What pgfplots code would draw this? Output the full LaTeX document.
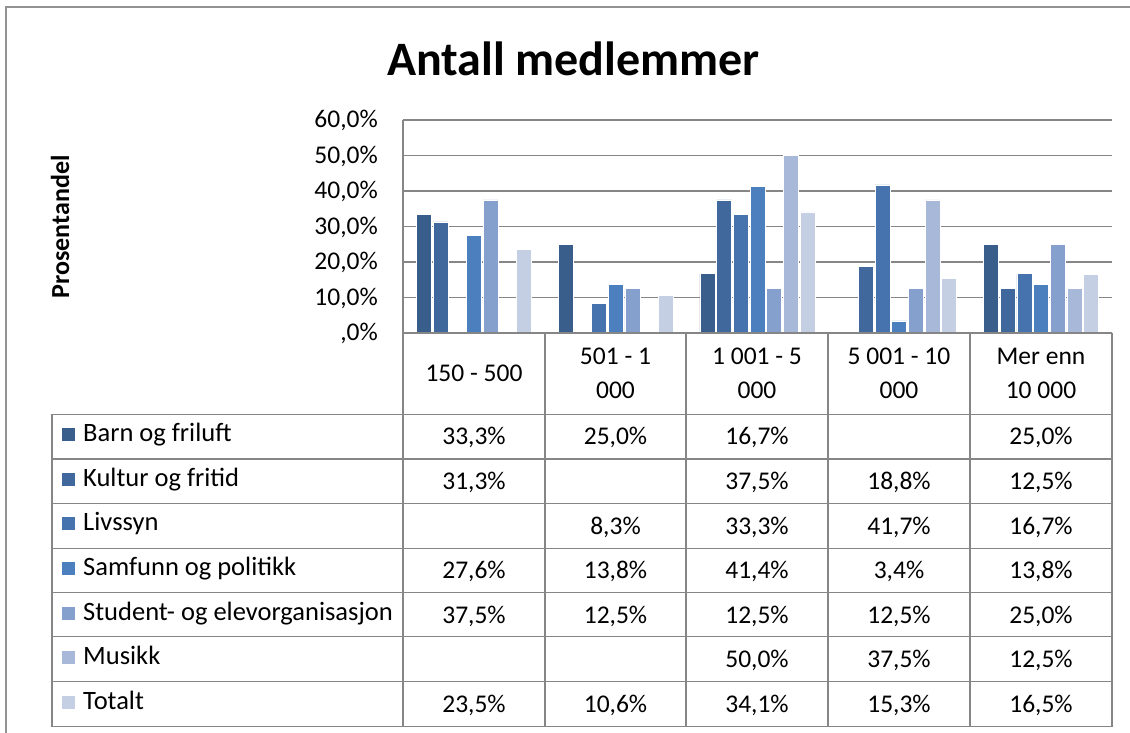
\documentclass[border=0pt]{standalone}
\usepackage{pgfplots}
\pgfplotsset{compat=1.18}
\usepackage{fontspec}
\setmainfont{Carlito}
\definecolor{c1}{HTML}{3A5E8C}
\definecolor{c2}{HTML}{41689C}
\definecolor{c3}{HTML}{4673AD}
\definecolor{c4}{HTML}{4C7FBD}
\definecolor{c5}{HTML}{85A0CC}
\definecolor{c6}{HTML}{A8B8D8}
\definecolor{c7}{HTML}{C4CFE3}
\definecolor{gridc}{HTML}{868686}
\newcommand{\fs}{\fontsize{25.5}{30}\selectfont}
\begin{document}
\begin{tikzpicture}
\useasboundingbox (0pt,0pt) rectangle (1130pt,733pt);
\fill[white] (0pt,0pt) rectangle (1130pt,733pt);
\begin{axis}[
  at={(403pt,400pt)}, anchor=south west,
  scale only axis, width=709pt, height=213pt,
  xmin=-0.5, xmax=4.5, ymin=0, ymax=60,
  axis x line=bottom, axis y line=left,
  axis line style={-, draw=gridc, line width=1.3pt},
  ymajorgrids, grid style={draw=gridc, line width=1.3pt},
  xtick=\empty,
  ytick={0,10,20,30,40,50,60},
  yticklabels={{,0\%},{10,0\%},{20,0\%},{30,0\%},{40,0\%},{50,0\%},{60,0\%}},
  major tick length=0pt, tick style={draw=none},
  yticklabel style={font=\fs, anchor=base east, inner sep=0pt, xshift=-25pt, yshift=-8pt},
  ybar=1.67pt, bar width=15pt,
  every axis plot/.append style={draw=white, line width=0.7pt},
]
\addplot[fill=c1] coordinates {(0,33.3) (1,25.0) (2,16.7) (4,25.0)};
\addplot[fill=c2] coordinates {(0,31.3) (2,37.5) (3,18.8) (4,12.5)};
\addplot[fill=c3] coordinates {(1,8.3) (2,33.3) (3,41.7) (4,16.7)};
\addplot[fill=c4] coordinates {(0,27.6) (1,13.8) (2,41.4) (3,3.4) (4,13.8)};
\addplot[fill=c5] coordinates {(0,37.5) (1,12.5) (2,12.5) (3,12.5) (4,25.0)};
\addplot[fill=c6] coordinates {(2,50.0) (3,37.5) (4,12.5)};
\addplot[fill=c7] coordinates {(0,23.5) (1,10.6) (2,34.1) (3,15.3) (4,16.5)};
\end{axis}
\begin{scope}[x=1pt,y=1pt]
% outer border
\draw[gridc!90, line width=1.6pt] (6,0) -- (6,726) -- (1135,726);
% title
\node[anchor=base, inner sep=0pt, font=\fontsize{48}{56}\selectfont\bfseries] at (573.5,657) {Antall medlemmer};
% y label
\node[rotate=90, inner sep=0pt, font=\fontsize{26}{30}\selectfont\bfseries] at (60,506) {Prosentandel};
% table lines
\begin{scope}[draw=gridc, line width=1.4pt]
\draw (403,400) -- (1112,400);
\foreach \y in {318.7,274,229.7,184.7,140.7,96.3,51.3,6.3} \draw (52,\y) -- (1112,\y);
\draw (52,318.7) -- (52,6.3);
\foreach \x in {403,545,686,828,970,1112} \draw (\x,400) -- (\x,6.3);
\end{scope}
% header
\begin{scope}[font=\fs, every node/.style={anchor=base, inner sep=0pt}]
\node at (474,351.3) {150 - 500};
\node at (615.5,368) {501 - 1};   \node at (615.5,334.7) {000};
\node at (757,368) {1 001 - 5};   \node at (757,334.7) {000};
\node at (899,368) {5 001 - 10};  \node at (899,334.7) {000};
\node at (1041,368) {Mer enn};    \node at (1041,334.7) {10 000};
% legend column
\foreach \t/\c [count=\i from 0] in {Barn og friluft/c1, Kultur og fritid/c2, Livssyn/c3, Samfunn og politikk/c4, Student- og elevorganisasjon/c5, Musikk/c6, Totalt/c7}{
  \pgfmathsetmacro{\yb}{733-414.3-27.5-44.6*\i}
  \pgfmathsetmacro{\ys}{733-414.3-20.4-44.6*\i}
  \fill[\c] (62,\ys-6.5) rectangle (75,\ys+6.5);
  \node[anchor=base west, font=\fontsize{26.5}{30}\selectfont] at (83,\yb) {\t};
}
% values
\newcommand{\row}[6]{%
  \pgfmathsetmacro{\yb}{733-414.3-30.7-44.6*#1}%
  \node at (474,\yb) {#2};
  \node at (615.5,\yb) {#3};
  \node at (757,\yb) {#4};
  \node at (899,\yb) {#5};
  \node at (1041,\yb) {#6};}
\row{0}{33,3\%}{25,0\%}{16,7\%}{}{25,0\%}
\row{1}{31,3\%}{}{37,5\%}{18,8\%}{12,5\%}
\row{2}{}{8,3\%}{33,3\%}{41,7\%}{16,7\%}
\row{3}{27,6\%}{13,8\%}{41,4\%}{3,4\%}{13,8\%}
\row{4}{37,5\%}{12,5\%}{12,5\%}{12,5\%}{25,0\%}
\row{5}{}{}{50,0\%}{37,5\%}{12,5\%}
\row{6}{23,5\%}{10,6\%}{34,1\%}{15,3\%}{16,5\%}
\end{scope}
\end{scope}
\end{tikzpicture}
\end{document}
